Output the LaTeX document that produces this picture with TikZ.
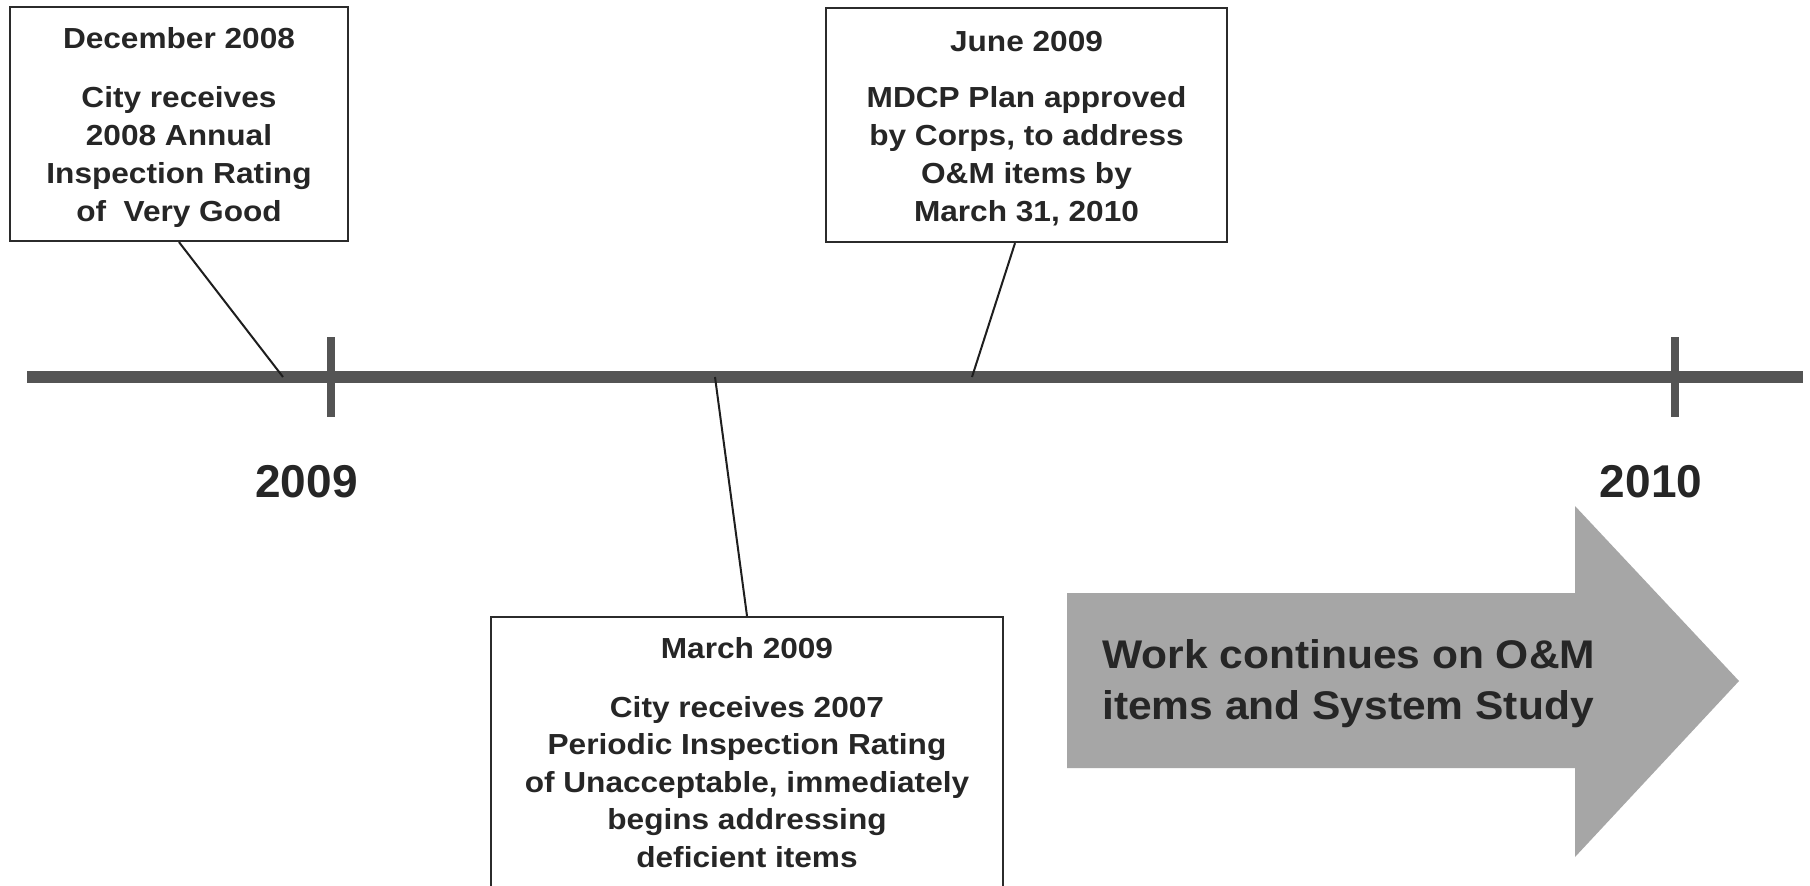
\documentclass[tikz,border=0pt]{standalone}
\usepackage{fontspec}
\setmainfont{Liberation Sans}
\usepackage{graphicx}
\definecolor{txt}{HTML}{262626}
\definecolor{lineg}{HTML}{545454}
\definecolor{arrowg}{HTML}{A6A6A6}
\definecolor{boxc}{HTML}{2B2B2B}
\definecolor{linkc}{HTML}{1E1E1E}
\newcommand\bxl[1]{\scalebox{1.09}[1]{#1}}
\newcommand\arl[1]{\scalebox{1.063}[1]{#1}}
\begin{document}
\begin{tikzpicture}[x=1pt,y=-1pt,
  evbox/.style={draw=boxc, line width=2.2pt, rectangle, inner sep=0pt},
  evtxt/.style={text=txt, font=\fontsize{29}{29}\selectfont\bfseries, inner sep=0pt, anchor=base},
  yeartxt/.style={text=txt, font=\fontsize{46}{46}\selectfont\bfseries, inner sep=0pt, anchor=base},
  arrtxt/.style={text=txt, font=\fontsize{40}{40}\selectfont\bfseries, inner sep=0pt, anchor=base west},
  link/.style={draw=linkc, line width=2pt},
  tline/.style={draw=lineg, line width=12pt},
  tick/.style={draw=lineg, line width=8pt}]
\useasboundingbox (0,0) rectangle (1810,886);
\clip (0,0) rectangle (1810,886);
\fill[white] (0,0) rectangle (1810,886);

% timeline
\draw[tline] (27,377) -- (1803,377);
\draw[tick] (331,337) -- (331,417);
\draw[tick] (1675,337) -- (1675,417);
\coordinate (p1) at (283,377);
\coordinate (p2) at (972,377);
\coordinate (p3) at (715,377);

% year labels
\node[yeartxt] (y2009) at (306.5,497) {2009};
\node[yeartxt] (y2010) at (1651,497) {2010};

% box 1
\node[evbox, minimum width=338pt, minimum height=234pt] (b1) at (179,124) {};
\node[evtxt] (t1) at (179,48) {\bxl{December 2008}};
\foreach \t [count=\i] in {City receives, 2008 Annual, Inspection Rating, of\ \ Very Good}
  \node[evtxt] (t1l\i) at (179,{107+38.3*(\i-1)}) {\bxl{\t}};

% box 2
\node[evbox, minimum width=401pt, minimum height=234pt] (b2) at (1026.5,125) {};
\node[evtxt] (t2) at (1026.5,51) {\bxl{June 2009}};
\foreach \t [count=\i] in {MDCP Plan approved, {by Corps, to address}, O\&M items by, {March 31, 2010}}
  \node[evtxt] (t2l\i) at (1026.5,{107+38.3*(\i-1)}) {\bxl{\t}};

% box 3
\node[evbox, minimum width=512pt, minimum height=283pt] (b3) at (747,758.5) {};
\node[evtxt] (t3) at (747,658) {\bxl{March 2009}};
\foreach \t [count=\i] in {City receives 2007, Periodic Inspection Rating, {of Unacceptable, immediately}, begins addressing, deficient items}
  \node[evtxt] (t3l\i) at (747,{717+37.5*(\i-1)}) {\bxl{\t}};

% connectors
\draw[link] (b1.south) -- (p1);
\draw[link] ([xshift=-11.5pt]b2.south) -- (p2);
\draw[link] (b3.north) -- (p3);

% big arrow
\fill[arrowg] (1067,593) -- (1575,593) -- (1575,506) -- (1739,681) -- (1575,857) -- (1575,768) -- (1067,768) -- cycle;
\node[arrtxt] (w1) at (1102,668) {\arl{Work continues on O\&M}};
\node[arrtxt] (w2) at (1102,719) {\arl{items and System Study}};
\end{tikzpicture}
\end{document}
